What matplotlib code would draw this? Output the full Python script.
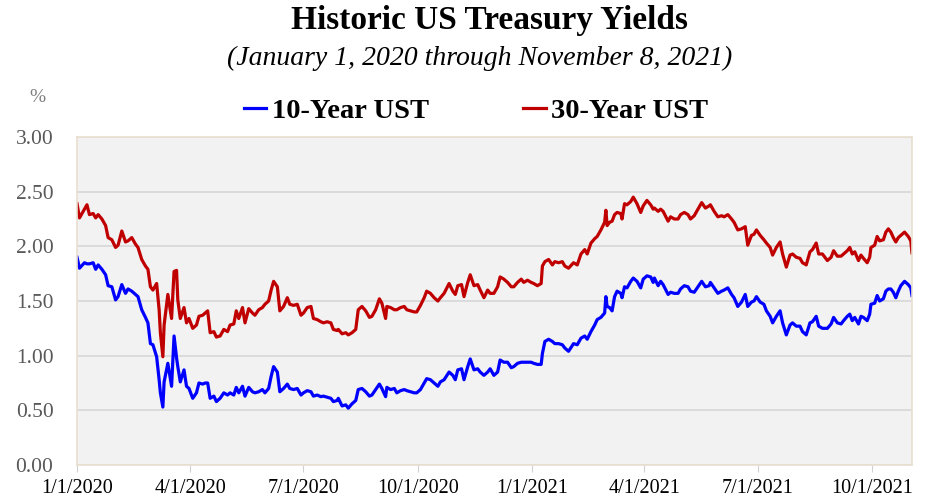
import matplotlib
matplotlib.use("Agg")
import matplotlib.pyplot as plt
import matplotlib.dates as mdates
import pandas as pd
import numpy as np

# Day offsets from 2020-01-01
day_offsets = [
    0, 2, 6, 8, 10, 13, 15, 17, 20, 23, 25, 28, 31, 33, 36, 39, 41, 44, 47, 49,
    52, 55, 57, 59, 61, 64, 66, 67, 69, 70, 73, 76, 78, 80, 81, 83, 86, 88, 90, 93,
    96, 98, 101, 103, 105, 107, 110, 112, 115, 118, 121, 123, 126, 128, 130, 133, 135, 138, 141, 143,
    146, 149, 151, 154, 156, 158, 161, 163, 166, 169, 171, 174, 177, 180, 182, 185, 188, 190, 193, 196,
    198, 201, 204, 206, 209, 210, 213, 216, 218, 221, 224, 226, 229, 232, 235, 237, 240, 243, 245, 248,
    249, 252, 255, 257, 260, 263, 265, 268, 271, 273, 276, 279, 281, 284, 287, 290, 292, 295, 299, 302,
    304, 306, 309, 311, 314, 316, 319, 322, 324, 327, 330, 332, 335, 338, 340, 343, 346, 349, 351, 354,
    357, 359, 362, 365, 367, 370, 373, 374, 376, 379, 382, 384, 387, 390, 392, 395, 399, 402, 405, 408,
    410, 413, 416, 418, 421, 424, 425, 426, 428, 430, 432, 434, 437, 438, 440, 442, 445, 447, 450, 453,
    455, 458, 461, 463, 464, 467, 469, 471, 475, 477, 480, 483, 485, 488, 491, 493, 496, 499, 502, 505,
    508, 509, 512, 515, 518, 520, 523, 526, 528, 531, 534, 537, 539, 542, 544, 546, 549, 552, 554, 557,
    559, 562, 565, 567, 570, 573, 575, 578, 581, 583, 586, 589, 591, 594, 596, 599, 603, 606, 608, 611,
    614, 616, 619, 621, 623, 625, 628, 630, 632, 635, 637, 638, 641, 643, 645, 648, 650, 652, 654, 656,
    658, 660, 662, 665, 668, 670, 671,
]

ust10 = [
    1.90, 1.80, 1.85, 1.84, 1.84, 1.85, 1.79, 1.83, 1.79, 1.74, 1.64, 1.63, 1.51, 1.54, 1.65, 1.57, 1.61, 1.59, 1.56, 1.54,
    1.42, 1.35, 1.30, 1.11, 1.10, 0.99, 0.78, 0.66, 0.53, 0.76, 0.93, 0.72, 1.18, 0.98, 0.90, 0.76, 0.87, 0.72, 0.70, 0.61,
    0.66, 0.75, 0.74, 0.75, 0.75, 0.61, 0.63, 0.58, 0.61, 0.66, 0.64, 0.66, 0.64, 0.71, 0.66, 0.72, 0.63, 0.71, 0.67, 0.66,
    0.67, 0.69, 0.66, 0.70, 0.81, 0.90, 0.85, 0.67, 0.70, 0.74, 0.70, 0.69, 0.70, 0.64, 0.66, 0.68, 0.67, 0.63, 0.64, 0.625,
    0.63, 0.62, 0.61, 0.58, 0.59, 0.61, 0.54, 0.55, 0.52, 0.56, 0.59, 0.69, 0.70, 0.67, 0.63, 0.64, 0.69, 0.74, 0.70, 0.625,
    0.71, 0.69, 0.70, 0.66, 0.68, 0.69, 0.68, 0.67, 0.66, 0.66, 0.69, 0.75, 0.79, 0.78, 0.75, 0.72, 0.76, 0.78, 0.85, 0.82,
    0.78, 0.87, 0.88, 0.78, 0.90, 0.97, 0.87, 0.88, 0.85, 0.82, 0.85, 0.88, 0.82, 0.85, 0.96, 0.94, 0.94, 0.89, 0.90, 0.93,
    0.94, 0.94, 0.94, 0.94, 0.93, 0.92, 0.92, 1.02, 1.13, 1.15, 1.13, 1.11, 1.11, 1.10, 1.07, 1.04, 1.11, 1.10, 1.16, 1.18,
    1.15, 1.22, 1.28, 1.33, 1.35, 1.39, 1.54, 1.45, 1.44, 1.41, 1.54, 1.59, 1.57, 1.53, 1.63, 1.62, 1.68, 1.71, 1.68, 1.62,
    1.70, 1.73, 1.72, 1.67, 1.71, 1.64, 1.68, 1.65, 1.56, 1.58, 1.57, 1.57, 1.61, 1.64, 1.63, 1.59, 1.58, 1.63, 1.68, 1.63,
    1.64, 1.67, 1.62, 1.57, 1.59, 1.60, 1.62, 1.56, 1.53, 1.45, 1.49, 1.56, 1.45, 1.49, 1.50, 1.54, 1.49, 1.47, 1.41, 1.36,
    1.30, 1.36, 1.41, 1.30, 1.19, 1.28, 1.30, 1.27, 1.27, 1.22, 1.19, 1.30, 1.31, 1.36, 1.27, 1.25, 1.25, 1.29, 1.35, 1.30,
    1.29, 1.32, 1.36, 1.38, 1.32, 1.35, 1.29, 1.36, 1.35, 1.32, 1.38, 1.47, 1.48, 1.55, 1.50, 1.52, 1.59, 1.61, 1.61, 1.58,
    1.53, 1.59, 1.64, 1.68, 1.65, 1.62, 1.55,
]

ust30 = [
    2.39, 2.26, 2.34, 2.38, 2.29, 2.30, 2.26, 2.29, 2.25, 2.19, 2.08, 2.06, 1.99, 2.01, 2.14, 2.04, 2.05, 2.08, 2.02, 1.99,
    1.88, 1.82, 1.79, 1.63, 1.60, 1.66, 1.42, 1.21, 0.99, 1.28, 1.56, 1.34, 1.77, 1.78, 1.51, 1.34, 1.44, 1.30, 1.34, 1.25,
    1.28, 1.36, 1.37, 1.39, 1.41, 1.21, 1.22, 1.17, 1.18, 1.24, 1.22, 1.28, 1.29, 1.41, 1.34, 1.44, 1.30, 1.43, 1.39, 1.37,
    1.42, 1.44, 1.47, 1.50, 1.60, 1.68, 1.63, 1.41, 1.45, 1.53, 1.47, 1.46, 1.47, 1.37, 1.39, 1.44, 1.45, 1.34, 1.33, 1.31,
    1.30, 1.31, 1.30, 1.24, 1.23, 1.24, 1.20, 1.21, 1.19, 1.21, 1.24, 1.42, 1.45, 1.41, 1.35, 1.36, 1.42, 1.52, 1.48, 1.34,
    1.45, 1.44, 1.42, 1.42, 1.44, 1.45, 1.42, 1.41, 1.40, 1.40, 1.46, 1.53, 1.59, 1.57, 1.53, 1.50, 1.53, 1.57, 1.66, 1.59,
    1.56, 1.64, 1.65, 1.54, 1.67, 1.74, 1.64, 1.65, 1.60, 1.53, 1.60, 1.57, 1.57, 1.63, 1.72, 1.70, 1.67, 1.63, 1.63, 1.67,
    1.70, 1.67, 1.69, 1.67, 1.66, 1.64, 1.66, 1.82, 1.86, 1.88, 1.83, 1.86, 1.85, 1.86, 1.82, 1.80, 1.85, 1.83, 1.93, 1.97,
    1.93, 2.03, 2.07, 2.09, 2.15, 2.22, 2.33, 2.19, 2.22, 2.23, 2.29, 2.31, 2.30, 2.25, 2.39, 2.38, 2.41, 2.45, 2.39, 2.31,
    2.37, 2.42, 2.38, 2.34, 2.35, 2.32, 2.34, 2.32, 2.23, 2.27, 2.25, 2.25, 2.29, 2.31, 2.29, 2.25, 2.28, 2.34, 2.40, 2.35,
    2.37, 2.38, 2.32, 2.27, 2.28, 2.27, 2.29, 2.25, 2.22, 2.15, 2.16, 2.18, 2.01, 2.10, 2.11, 2.15, 2.10, 2.06, 2.03, 1.99,
    1.92, 1.99, 2.04, 1.93, 1.81, 1.92, 1.93, 1.90, 1.89, 1.85, 1.83, 1.95, 1.97, 2.03, 1.93, 1.93, 1.87, 1.90, 1.96, 1.91,
    1.91, 1.93, 1.96, 1.99, 1.93, 1.95, 1.87, 1.92, 1.89, 1.85, 1.90, 1.99, 2.01, 2.09, 2.05, 2.06, 2.13, 2.16, 2.13, 2.08,
    2.04, 2.08, 2.10, 2.13, 2.09, 2.05, 1.94,
]

tick_dates = ["2020-01-01", "2020-04-01", "2020-07-01", "2020-10-01",
              "2021-01-01", "2021-04-01", "2021-07-01", "2021-10-01"]
tick_labels = ["1/1/2020", "4/1/2020", "7/1/2020", "10/1/2020",
               "1/1/2021", "4/1/2021", "7/1/2021", "10/1/2021"]
y_ticks = [0.0, 0.5, 1.0, 1.5, 2.0, 2.5, 3.0]

series_names = ["10-Year UST", "30-Year UST"]
title = "Historic US Treasury Yields"
subtitle = "(January 1, 2020 through November 8, 2021)"

start = pd.Timestamp("2020-01-01")
dates = start + pd.to_timedelta(day_offsets, unit="D")

plt.rcParams["font.family"] = ["Liberation Serif", "DejaVu Serif"]

fig = plt.figure(figsize=(9.34, 4.97), dpi=100)
ax = fig.add_axes([77 / 934, 32 / 497, 835 / 934, 328 / 497])
ax.set_facecolor("#f2f2f2")

ax.plot(dates, ust10, color="#0000ff", lw=2.3, label=series_names[0], solid_joinstyle="round")
ax.plot(dates, ust30, color="#c00000", lw=2.3, label=series_names[1], solid_joinstyle="round")

ax.set_ylim(0, 3.0)
ax.set_xlim(start, dates[-1])
ax.set_yticks(y_ticks)
ax.set_yticklabels([f"{v:.2f}" for v in y_ticks])
ax.set_xticks(pd.to_datetime(tick_dates))
ax.set_xticklabels(tick_labels)

ax.grid(axis="y", color="#d9d9d9", lw=1.3)
ax.set_axisbelow(True)
for s in ax.spines.values():
    s.set_color("#e8dfcf")
    s.set_linewidth(1.2)

ax.tick_params(axis="y", length=0, labelsize=15.5, labelcolor="#595959", pad=17)
ax.tick_params(axis="x", length=5, color="#d0d0d0", labelsize=14.5, labelcolor="black", pad=5)

fig.text(490 / 934, 1 - 21 / 497, title, ha="center", va="center", fontsize=24, fontweight="bold")
fig.text(480 / 934, 1 - 58 / 497, subtitle, ha="center", va="center", fontsize=20, style="italic")
fig.text(37 / 934, 1 - 98 / 497, "%", ha="center", va="center", fontsize=14, color="#7f7f7f")

leg = fig.legend(loc="center", bbox_to_anchor=(476 / 934, 1 - 111 / 497), ncol=2, frameon=False,
                 handlelength=0.8, handletextpad=0.2, columnspacing=3.3,
                 prop={"size": 20.5, "weight": "bold"})

fig.savefig("out.png", dpi=100, facecolor="white")
